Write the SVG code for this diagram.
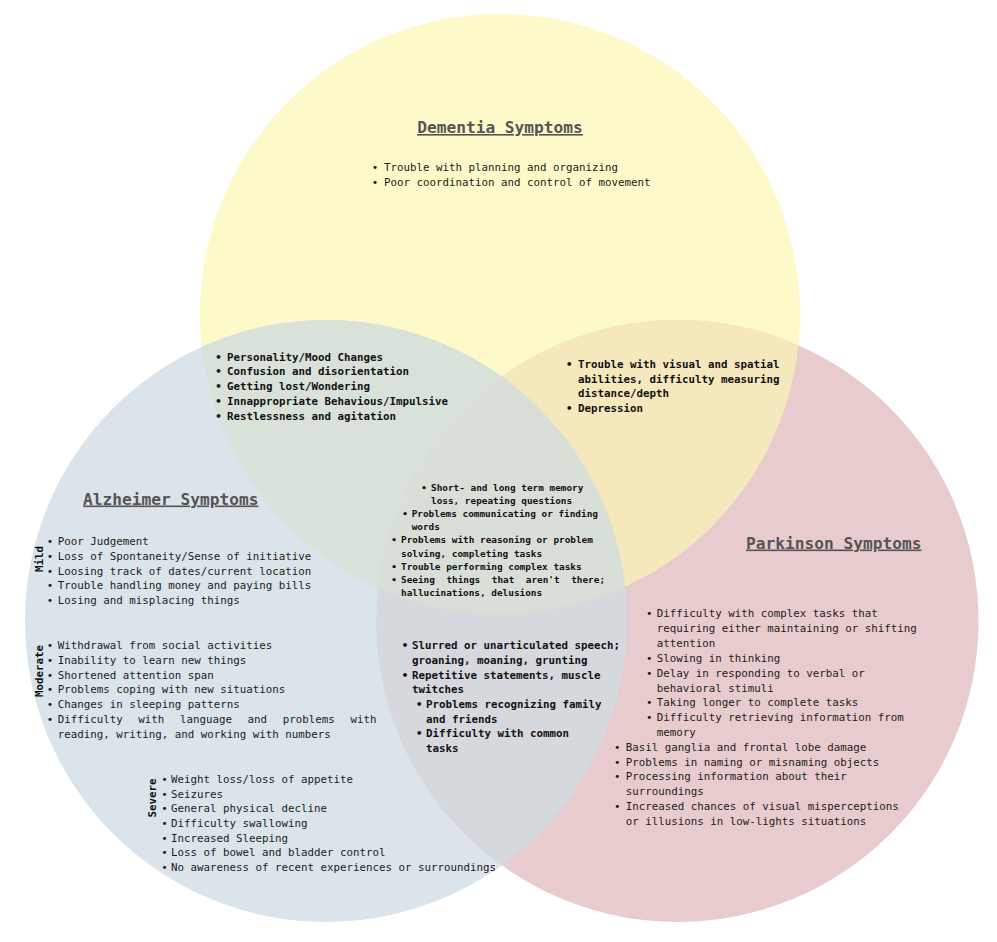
<svg xmlns="http://www.w3.org/2000/svg" width="997" height="942" viewBox="0 0 997 942">
<style>
text { font-family: "DejaVu Sans Mono", "Liberation Mono", monospace; font-size: 10.8px; fill: #1c1c1c; }
.b { font-weight: bold; fill: #111; }
.s { font-size: 9.4px; font-weight: bold; fill: #111; }
.h { font-size: 16.2px; font-weight: bold; fill: #555; text-decoration: underline; }
.v { font-weight: bold; fill: #111; text-anchor: middle; }
</style>
<defs>
<clipPath id="cY"><circle cx="500" cy="314" r="300"/></clipPath>
<clipPath id="cB"><circle cx="326" cy="621" r="301"/></clipPath>
</defs>

<g id="circles">
<circle id="dementia-circle" cx="500" cy="314" r="300" fill="#FEF9C9"/>
<circle id="alzheimer-circle" cx="326" cy="621" r="301" fill="#DAE4EA"/>
<circle id="parkinson-circle" cx="677.5" cy="621" r="301" fill="#E8CCCD"/>
<circle cx="326" cy="621" r="301" fill="#D8E2D8" clip-path="url(#cY)"/>
<circle cx="677.5" cy="621" r="301" fill="#F5E8BD" clip-path="url(#cY)"/>
<circle cx="677.5" cy="621" r="301" fill="#D5D8DD" clip-path="url(#cB)"/>
<g clip-path="url(#cY)"><circle cx="677.5" cy="621" r="301" fill="#D8DFD6" clip-path="url(#cB)"/></g>
</g>

<g id="dementia">
<text class="h" x="500" y="133" text-anchor="middle">Dementia Symptoms</text>
<text x="371.75" y="170.7"><tspan>•</tspan><tspan x="384">Trouble with planning and organizing</tspan></text>
<text x="371.75" y="185.7"><tspan>•</tspan><tspan x="384">Poor coordination and control of movement</tspan></text>
</g>

<g id="dementia-alzheimer" class="b">
<text class="b" x="215.25" y="360.7"><tspan>•</tspan><tspan x="227">Personality/Mood Changes</tspan></text>
<text class="b" x="215.25" y="375.45"><tspan>•</tspan><tspan x="227">Confusion and disorientation</tspan></text>
<text class="b" x="215.25" y="390.2"><tspan>•</tspan><tspan x="227">Getting lost/Wondering</tspan></text>
<text class="b" x="215.25" y="404.95"><tspan>•</tspan><tspan x="227">Innappropriate Behavious/Impulsive</tspan></text>
<text class="b" x="215.25" y="419.7"><tspan>•</tspan><tspan x="227">Restlessness and agitation</tspan></text>
</g>

<g id="dementia-parkinson">
<text class="b" x="566" y="367.7"><tspan>•</tspan><tspan x="578">Trouble with visual and spatial</tspan></text>
<text class="b" x="578" y="382.5">abilities, difficulty measuring</text>
<text class="b" x="578" y="397.2">distance/depth</text>
<text class="b" x="566" y="412.2"><tspan>•</tspan><tspan x="578">Depression</tspan></text>
</g>

<g id="all-three">
<text class="s" x="421.2" y="490.6"><tspan>•</tspan><tspan x="431">Short- and long term memory</tspan></text>
<text class="s" x="431" y="504">loss, repeating questions</text>
<text class="s" x="402.2" y="517"><tspan>•</tspan><tspan x="411.7">Problems communicating or finding</tspan></text>
<text class="s" x="411.7" y="530">words</text>
<text class="s" x="391.2" y="543.3"><tspan>•</tspan><tspan x="401">Problems with reasoning or problem</tspan></text>
<text class="s" x="401" y="556.6">solving, completing tasks</text>
<text class="s" x="391.2" y="570"><tspan>•</tspan><tspan x="401">Trouble performing complex tasks</tspan></text>
<text class="s" x="391.2" y="583"><tspan>•</tspan><tspan x="401">Seeing</tspan><tspan x="446.4">things</tspan><tspan x="491.8">that</tspan><tspan x="525.8">aren't</tspan><tspan x="571.2">there;</tspan></text>
<text class="s" x="401" y="596">hallucinations, delusions</text>
</g>

<g id="alzheimer">
<text class="h" x="83" y="504.5">Alzheimer Symptoms</text>
<text class="v" transform="translate(43 559) rotate(-90)">Mild</text>
<text x="46.75" y="545.4"><tspan>•</tspan><tspan x="57.7">Poor Judgement</tspan></text>
<text x="46.75" y="560"><tspan>•</tspan><tspan x="57.7">Loss of Spontaneity/Sense of initiative</tspan></text>
<text x="46.75" y="574.6"><tspan>•</tspan><tspan x="57.7">Loosing track of dates/current location</tspan></text>
<text x="46.75" y="589.2"><tspan>•</tspan><tspan x="57.7">Trouble handling money and paying bills</tspan></text>
<text x="46.75" y="603.8"><tspan>•</tspan><tspan x="57.7">Losing and misplacing things</tspan></text>
<text class="v" transform="translate(43 671) rotate(-90)">Moderate</text>
<text x="46.75" y="648.7"><tspan>•</tspan><tspan x="57.7">Withdrawal from social activities</tspan></text>
<text x="46.75" y="663.6"><tspan>•</tspan><tspan x="57.7">Inability to learn new things</tspan></text>
<text x="46.75" y="678.5"><tspan>•</tspan><tspan x="57.7">Shortened attention span</tspan></text>
<text x="46.75" y="693.3"><tspan>•</tspan><tspan x="57.7">Problems coping with new situations</tspan></text>
<text x="46.75" y="708.2"><tspan>•</tspan><tspan x="57.7">Changes in sleeping patterns</tspan></text>
<text x="46.75" y="723.1"><tspan>•</tspan><tspan x="57.7">Difficulty</tspan><tspan x="138.2">with</tspan><tspan x="179.9">language</tspan><tspan x="247.5">and</tspan><tspan x="282.8">problems</tspan><tspan x="350.4">with</tspan></text>
<text x="57.7" y="738">reading, writing, and working with numbers</text>
<text class="v" transform="translate(156 798) rotate(-90)">Severe</text>
<text x="161.3" y="783"><tspan>•</tspan><tspan x="171">Weight loss/loss of appetite</tspan></text>
<text x="161.3" y="797.7"><tspan>•</tspan><tspan x="171">Seizures</tspan></text>
<text x="161.3" y="812.3"><tspan>•</tspan><tspan x="171">General physical decline</tspan></text>
<text x="161.3" y="827"><tspan>•</tspan><tspan x="171">Difficulty swallowing</tspan></text>
<text x="161.3" y="841.7"><tspan>•</tspan><tspan x="171">Increased Sleeping</tspan></text>
<text x="161.3" y="856.3"><tspan>•</tspan><tspan x="171">Loss of bowel and bladder control</tspan></text>
<text x="161.3" y="871"><tspan>•</tspan><tspan x="171">No awareness of recent experiences or surroundings</tspan></text>
</g>

<g id="alzheimer-parkinson">
<text class="b" x="401.75" y="649.4"><tspan>•</tspan><tspan x="412">Slurred or unarticulated speech;</tspan></text>
<text class="b" x="412" y="664.1">groaning, moaning, grunting</text>
<text class="b" x="401.75" y="678.7"><tspan>•</tspan><tspan x="412">Repetitive statements, muscle</tspan></text>
<text class="b" x="412" y="693.4">twitches</text>
<text class="b" x="416" y="708"><tspan>•</tspan><tspan x="426">Problems recognizing family</tspan></text>
<text class="b" x="426" y="722.7">and friends</text>
<text class="b" x="416" y="737.4"><tspan>•</tspan><tspan x="426">Difficulty with common</tspan></text>
<text class="b" x="426" y="752">tasks</text>
</g>

<g id="parkinson">
<text class="h" x="746" y="548.5">Parkinson Symptoms</text>
<text x="646" y="617.4"><tspan>•</tspan><tspan x="656.7">Difficulty with complex tasks that</tspan></text>
<text x="656.7" y="632.2">requiring either maintaining or shifting</text>
<text x="656.7" y="647">attention</text>
<text x="646" y="661.8"><tspan>•</tspan><tspan x="656.7">Slowing in thinking</tspan></text>
<text x="646" y="676.6"><tspan>•</tspan><tspan x="656.7">Delay in responding to verbal or</tspan></text>
<text x="656.7" y="691.5">behavioral stimuli</text>
<text x="646" y="706.3"><tspan>•</tspan><tspan x="656.7">Taking longer to complete tasks</tspan></text>
<text x="646" y="721.1"><tspan>•</tspan><tspan x="656.7">Difficulty retrieving information from</tspan></text>
<text x="656.7" y="735.9">memory</text>
<text x="614" y="750.7"><tspan>•</tspan><tspan x="625.7">Basil ganglia and frontal lobe damage</tspan></text>
<text x="614" y="765.5"><tspan>•</tspan><tspan x="625.7">Problems in naming or misnaming objects</tspan></text>
<text x="614" y="780.3"><tspan>•</tspan><tspan x="625.7">Processing information about their</tspan></text>
<text x="625.7" y="795.1">surroundings</text>
<text x="614" y="809.9"><tspan>•</tspan><tspan x="625.7">Increased chances of visual misperceptions</tspan></text>
<text x="625.7" y="824.7">or illusions in low-lights situations</text>
</g>
</svg>
